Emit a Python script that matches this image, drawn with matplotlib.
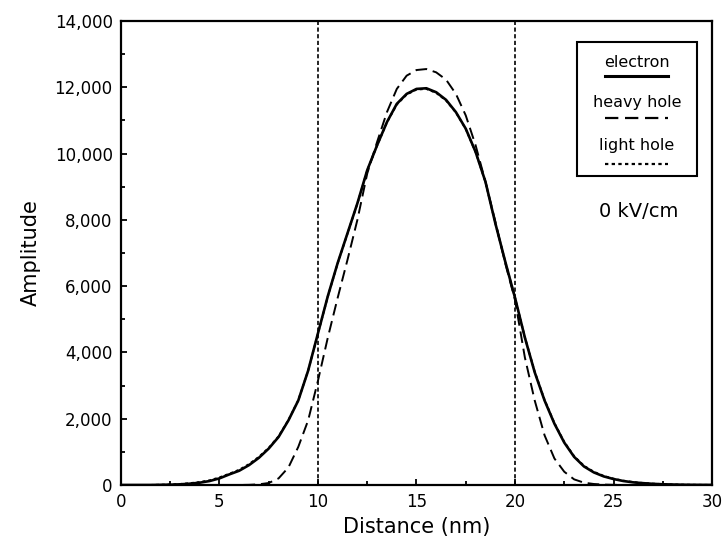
import matplotlib
matplotlib.use("Agg")
import matplotlib.pyplot as plt
from matplotlib.lines import Line2D
from matplotlib.patches import Rectangle
from matplotlib.ticker import MultipleLocator, FuncFormatter

# ---- data ----
distance = [0, 0.5, 1, 1.5, 2, 2.5, 3, 3.5, 4, 4.5, 5, 5.5, 6, 6.5, 7, 7.5, 8, 8.5, 9, 9.5,
            10, 10.5, 11, 11.5, 12, 12.5, 13, 13.5, 14, 14.5, 15, 15.5, 16, 16.5, 17, 17.5,
            18, 18.5, 19, 19.5, 20, 20.5, 21, 21.5, 22, 22.5, 23, 23.5, 24, 24.5, 25, 25.5,
            26, 26.5, 27, 27.5, 28, 28.5, 29, 29.5, 30]

electron = [0, 0, 0, 0, 5, 10, 20, 40, 70, 120, 200, 320, 430, 600, 820, 1100, 1450, 1950, 2550, 3450,
            4580, 5700, 6700, 7600, 8500, 9500, 10250, 10950, 11500, 11800, 11950, 11970, 11850, 11620, 11250, 10750,
            10050, 9150, 7900, 6750, 5650, 4450, 3400, 2550, 1850, 1280, 850, 560, 380, 260, 180, 120,
            80, 55, 35, 22, 14, 8, 5, 3, 2]

heavy_hole = [0, 0, 0, 0, 0, 0, 0, 0, 0, 0, 0, 0, 0, 5, 20, 60, 200, 530, 1150, 1950,
              3150, 4450, 5650, 6800, 8000, 9400, 10350, 11250, 11950, 12350, 12520, 12550, 12450, 12230, 11800, 11150,
              10250, 9150, 7950, 6700, 5580, 3850, 2550, 1500, 800, 400, 170, 70, 30, 12, 5, 0,
              0, 0, 0, 0, 0, 0, 0, 0, 0]

light_hole = [0, 0, 0, 0, 8, 15, 30, 55, 90, 140, 230, 340, 460, 630, 850, 1120, 1470, 1960, 2560, 3450,
              4570, 5690, 6690, 7590, 8490, 9490, 10240, 10940, 11480, 11780, 11930, 11950, 11830, 11600, 11240, 10740,
              10040, 9140, 7900, 6750, 5650, 4460, 3420, 2570, 1870, 1300, 870, 580, 400, 275, 190, 130,
              88, 60, 40, 26, 16, 10, 6, 4, 2]

well_edges = [10, 20]
legend_labels = ["electron", "heavy hole", "light hole"]
field_label = "0 kV/cm"

plt.rcParams['font.family'] = ['DejaVu Sans']

fig = plt.figure(figsize=(7.27, 5.45), dpi=100)
ax = fig.add_axes([0.1664, 0.1101, 0.8130, 0.8514])

ls_e = '-'
ls_h = (0, (6, 3))
ls_l = (0, (1.5, 1.5))

ax.plot(distance, electron, color='black', lw=1.9, ls=ls_e)
ax.plot(distance, heavy_hole, color='black', lw=1.4, ls=ls_h)
ax.plot(distance, light_hole, color='black', lw=1.4, ls=ls_l)
for xe in well_edges:
    ax.axvline(xe, color='black', lw=1.2, ls=(0, (2.5, 1.5)))

ax.set_xlim(0, 30)
ax.set_ylim(0, 14000)
ax.xaxis.set_major_locator(MultipleLocator(5))
ax.xaxis.set_minor_locator(MultipleLocator(2.5))
ax.yaxis.set_major_locator(MultipleLocator(2000))
ax.yaxis.set_minor_locator(MultipleLocator(1000))
ax.yaxis.set_major_formatter(FuncFormatter(lambda v, p: f"{int(v):,}"))
ax.tick_params(axis='both', which='both', direction='in', top=False, right=False, width=1.3)
ax.tick_params(axis='both', which='major', length=4, labelsize=12, pad=6)
ax.tick_params(axis='both', which='minor', length=3)
for s in ax.spines.values():
    s.set_linewidth(1.6)

ax.set_xlabel("Distance (nm)", fontsize=15, labelpad=4)
ax.set_ylabel("Amplitude", fontsize=15, labelpad=10)

# legend box drawn by hand, labels above line samples
t = ax.transAxes
ax.add_patch(Rectangle((0.7716, 0.666), 0.2030, 0.2887, transform=t, fill=False,
                       lw=1.5, color='black', zorder=5))
label_y = [0.9116, 0.8233, 0.7306]
line_y = [0.8815, 0.7910, 0.6918]
styles = [(ls_e, 2.2), (ls_h, 1.6), (ls_l, 1.6)]
for lab, ly, sy, (ls, lw) in zip(legend_labels, label_y, line_y, styles):
    ax.text(0.8731, ly, lab, transform=t, ha='center', va='center', fontsize=11.5)
    ax.add_line(Line2D([0.819, 0.9255], [sy, sy], transform=t, color='black', lw=lw, ls=ls))

ax.text(0.8756, 0.5884, field_label, transform=t, ha='center', va='center', fontsize=14)

fig.savefig("out.png", dpi=100)
